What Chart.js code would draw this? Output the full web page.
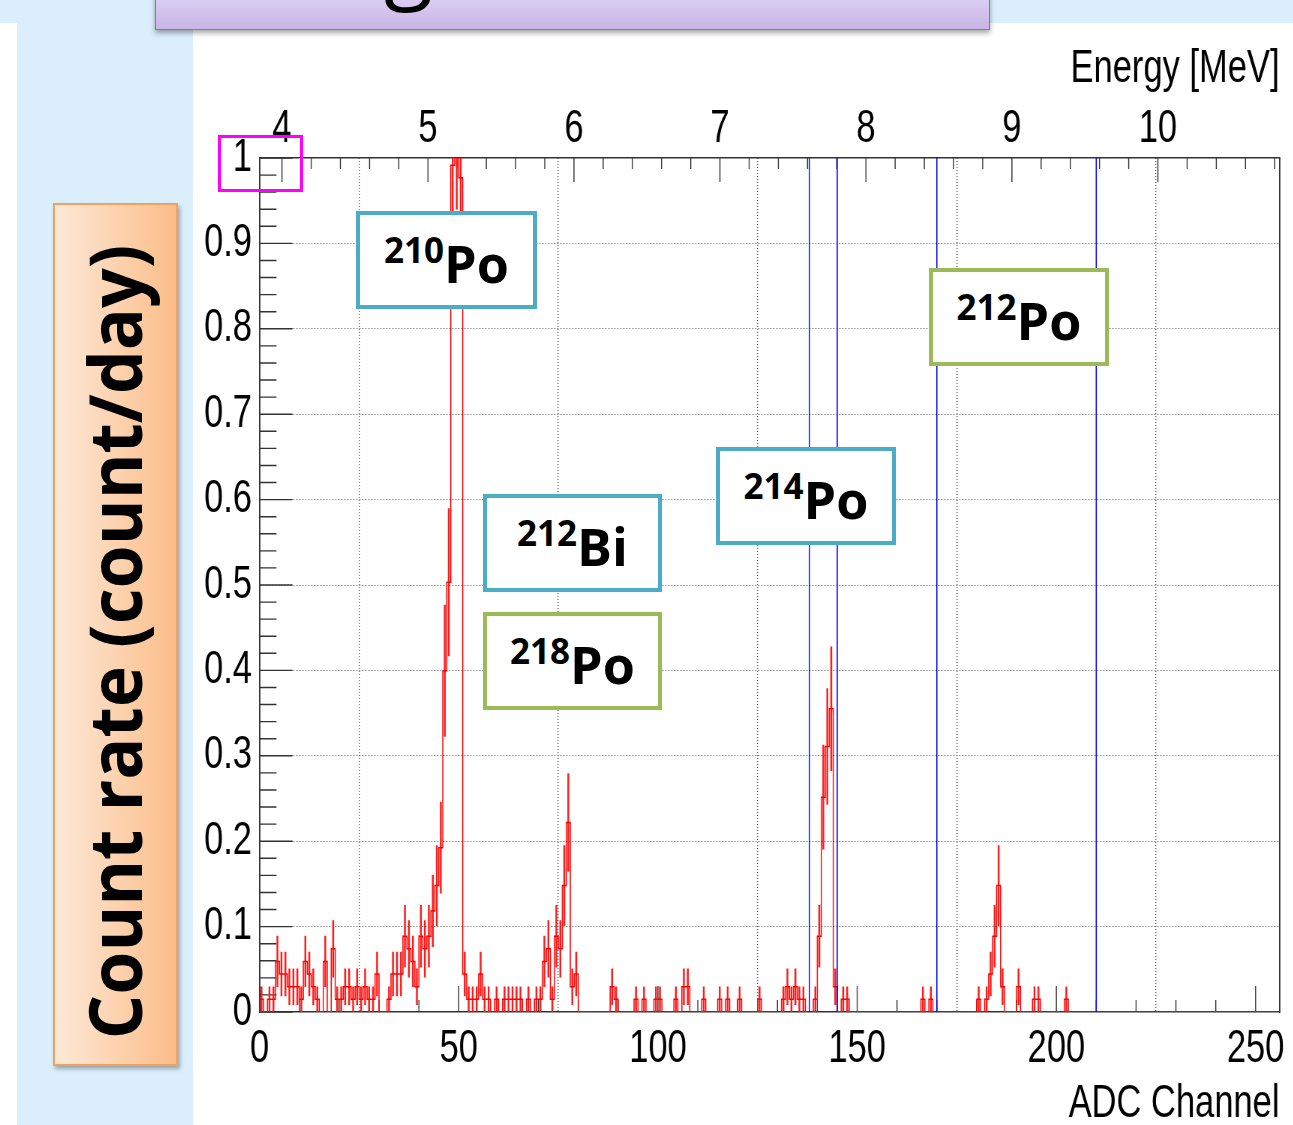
<!DOCTYPE html>
<html><head><meta charset="utf-8">
<script src="https://cdn.jsdelivr.net/npm/chart.js@4.4.0/dist/chart.umd.min.js"></script>
<style>
html,body{margin:0;padding:0;width:1293px;height:1125px;overflow:hidden;background:#fff;}
body{position:relative;}
.abs{position:absolute;}
#topband{left:0;top:0;width:1293px;height:23px;background:#dbeefb;}
#leftpanel{left:17px;top:0;width:176px;height:1125px;background:#dbeefb;}
#titlebox{left:155px;top:-6px;width:833px;height:34px;background:linear-gradient(#dcd0f2,#c8b6e6);border:1.5px solid #8a72b4;box-shadow:0 3px 5px rgba(0,0,0,0.35);overflow:hidden;}
#titlebox span{position:absolute;left:228px;top:-84px;font:90px/1 'Open Sans';color:#000;}
#ylabelbox{left:53px;top:203px;width:121px;height:859px;background:linear-gradient(to right,#fde9d8,#fbbd88);border:2px solid #f2a25e;box-shadow:2px 3px 4px rgba(0,0,0,0.3);}
#ylabel{left:114px;top:642px;white-space:nowrap;font:700 74px/1 'Open Sans';color:#000;transform-origin:50% 50%;}
#chartwrap{left:193px;top:22px;width:1467px;height:1140px;transform:scaleX(0.75);transform-origin:0 0;}
.tag{position:absolute;box-sizing:border-box;background:#fff;border:4.5px solid #4bacc6;display:flex;align-items:center;justify-content:center;}
.tag.g{border-color:#9bbb59;}
.tag .t{font:700 52px/1 'Open Sans';color:#000;white-space:nowrap;}
.tag .iso{font-size:35px;vertical-align:20px;}
#mag{left:218px;top:135px;width:85px;height:57px;box-sizing:border-box;border:3.5px solid #ff00ff;}
</style></head>
<body>
<div id="topband" class="abs"></div>
<div id="leftpanel" class="abs"></div>
<div id="chartwrap" class="abs"><canvas id="c" width="1467" height="1140" style="width:1467px;height:1140px"></canvas></div>
<div id="titlebox" class="abs"><span>g</span></div>
<div id="ylabelbox" class="abs"></div>
<div id="ylabel" class="abs">Count rate (count/day)</div>
<div class="tag" style="left:356px;top:211px;width:181px;height:98px"><div class="t"><span class="iso">210</span>Po</div></div>
<div class="tag" style="left:483px;top:494px;width:179px;height:98px"><div class="t"><span class="iso">212</span>Bi</div></div>
<div class="tag g" style="left:483px;top:612px;width:179px;height:98px"><div class="t"><span class="iso">218</span>Po</div></div>
<div class="tag" style="left:716px;top:447px;width:180px;height:98px"><div class="t"><span class="iso">214</span>Po</div></div>
<div class="tag g" style="left:929px;top:268px;width:180px;height:98px"><div class="t"><span class="iso">212</span>Po</div></div>
<div id="mag" class="abs"></div>
<script>
// ---- data ----
const rateUnit = 0.0148;           // count/day per recorded count
const nChannels = 256;
const binChannel = [0,2,3,4,5,6,7,8,9,10,11,12,13,14,16,18,19,20,21,22,23,24,25,26,27,28,29,32,33,34,35,36,37,38,39,40,41,42,43,44,45,46,47,48,49,50,51,52,53,54,55,56,57,59,61,62,63,64,65,67,69,70,71,72,73,74,75,76,77,78,79,88,89,94,96,99,100,104,106,107,111,115,117,120,125,131,132,133,134,135,136,139,140,141,142,143,144,146,147,166,168,180,182,183,184,185,186,190,194,195,202];
const binCount   = [1,1,1,4,3,3,2,2,2,1,4,3,2,1,4,5,1,1,2,2,1,2,1,2,1,1,3,1,3,3,3,6,5,4,2,6,5,6,8,10,13,27,34,67,72,66,3,1,1,1,3,1,1,1,1,1,1,1,1,1,1,1,4,5,1,6,5,10,15,2,3,2,1,1,1,1,1,1,2,2,1,1,1,1,1,1,2,1,2,1,1,1,6,17,21,24,2,1,1,1,1,1,1,3,6,10,2,2,1,1,1];
const cutChannels = [138,145,170,210];
const xTicks = [0,50,100,150,200,250];
const yTicks = [0,0.1,0.2,0.3,0.4,0.5,0.6,0.7,0.8,0.9,1];
const energyTicks = [4,5,6,7,8,9,10];
const energyRange = [3.846,10.833];

// ---- layout constants ----
const S = 0.75;
const FONT = {family:'Liberation Sans', size:46};

const counts = new Array(nChannels).fill(0);
binChannel.forEach((c,i)=>{counts[c]=binCount[i];});
const histPts = [{x:0,y:0}];
for (let c=0;c<nChannels;c++) histPts.push({x:c,y:counts[c]*rateUnit});
histPts.push({x:nChannels,y:0});
const errPts = binChannel.map((c,i)=>{
  const n=binCount[i], e=Math.sqrt(n);
  return {x:c+0.5, y:[(n-e)*rateUnit,(n+e)*rateUnit]};
});

const datasets = [
  {type:'bar', data:errPts, backgroundColor:'#ff1a1a', borderWidth:0, barThickness:1.8, grouped:false, order:2},
  {type:'line', data:histPts, stepped:'before', borderColor:'#ff0000', borderWidth:1.5, pointRadius:0, fill:false, order:1}
];
cutChannels.forEach(c=>datasets.push({type:'line', data:[{x:c,y:0},{x:c,y:1}], borderColor:'#0000ff', borderWidth:1.5, pointRadius:0, fill:false, order:0}));

const rootTicks = {
  id:'rootTicks',
  beforeDatasetsDraw(chart){
    const {ctx, chartArea:a, scales} = chart;
    ctx.save(); ctx.strokeStyle='#333'; ctx.lineWidth=1.4; ctx.beginPath();
    for (let v=0; v<=250; v+=10){ const px=scales.x.getPixelForValue(v); const L=(v%50===0)?26:12; ctx.moveTo(px,a.bottom); ctx.lineTo(px,a.bottom-L); }
    for (let k=0;k<=50;k++){ const py=scales.y.getPixelForValue(k*0.02); const L=((k%5===0)?33:17)/S; ctx.moveTo(a.left,py); ctx.lineTo(a.left+L,py); }
    for (let k=20;k*0.2<=energyRange[1];k++){ const px=scales.x2.getPixelForValue(k*0.2); const L=(k%5===0)?24:11; ctx.moveTo(px,a.top); ctx.lineTo(px,a.top+L); }
    ctx.stroke(); ctx.restore();
  }
};

const gridCol = (lo,hi)=>c=>(c.tick && c.tick.value>lo && c.tick.value<hi)?'#5a5a5a':'rgba(0,0,0,0)';

new Chart(document.getElementById('c'),{
  type:'line',
  data:{datasets},
  plugins:[rootTicks],
  options:{
    responsive:false, animation:false, events:[], devicePixelRatio:1,
    layout:{padding:{left:0,right:18.33,top:0,bottom:0}},
    plugins:{legend:{display:false},tooltip:{enabled:false}},
    scales:{
      x:{type:'linear',position:'bottom',min:0,max:nChannels,offset:false,
        afterBuildTicks:s=>{s.ticks=xTicks.map(v=>({value:v}));},
        afterFit:s=>{s.height=150;},
        grid:{drawTicks:false,color:gridCol(0,256),lineWidth:1.4},
        border:{display:true,color:'#333',width:1.5,dash:[1,2]},
        ticks:{padding:10,font:FONT,color:'#000',maxRotation:0,autoSkip:false},
        title:{display:true,text:'ADC Channel',align:'end',padding:{top:0,bottom:30},font:FONT,color:'#000'}},
      x2:{type:'linear',position:'top',min:energyRange[0],max:energyRange[1],
        afterBuildTicks:s=>{s.ticks=energyTicks.map(v=>({value:v}));},
        afterFit:s=>{s.height=136;},
        grid:{display:false,drawTicks:false},
        border:{display:true,color:'#333',width:1.5},
        ticks:{padding:1,font:FONT,color:'#000',maxRotation:0,autoSkip:false},
        title:{display:true,text:'Energy [MeV]',align:'end',padding:{top:20,bottom:0},font:FONT,color:'#000'}},
      y:{type:'linear',position:'left',min:0,max:1,
        afterBuildTicks:s=>{s.ticks=yTicks.map(v=>({value:v}));},
        afterFit:s=>{s.width=88.67;},
        grid:{drawTicks:false,color:gridCol(0,1),lineWidth:1},
        border:{display:true,color:'#333',width:1.9,dash:[1.33,2.67]},
        ticks:{padding:10,font:FONT,color:'#000',autoSkip:false,callback:v=>String(v)}},
      y2:{type:'linear',position:'right',min:0,max:1,
        afterFit:s=>{s.width=0;},
        grid:{display:false,drawTicks:false},
        ticks:{display:false},
        border:{display:true,color:'#333',width:1.9}}
    }
  }
});

// fit the rotated axis label to its length in the reference
const yl=document.getElementById('ylabel');
const k=795/yl.offsetWidth;
yl.style.transform='translate(-50%,-50%) rotate(-90deg) scaleX('+k+')';
</script>
</body></html>
